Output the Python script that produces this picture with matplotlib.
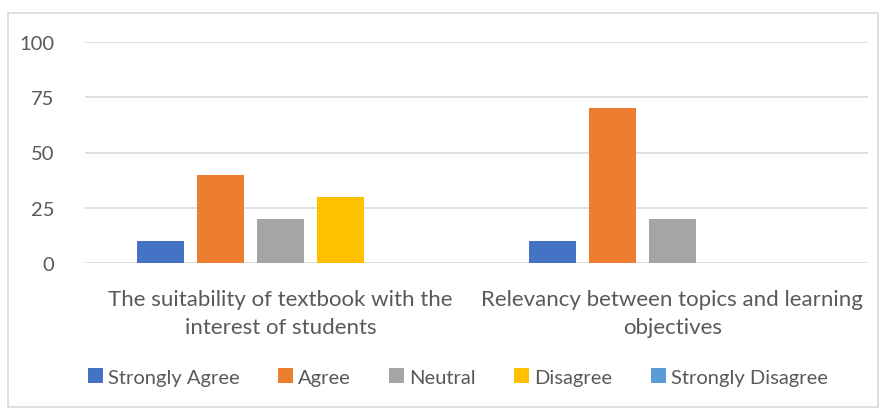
import numpy as np
import matplotlib.pyplot as plt
from matplotlib.patches import Rectangle

categories = [
    'The suitability of textbook with the\ninterest of students',
    'Relevancy between topics and learning\nobjectives',
]
series_names = ['Strongly Agree', 'Agree', 'Neutral', 'Disagree', 'Strongly Disagree']
series_values = [
    [10, 10],
    [40, 70],
    [20, 20],
    [30, 0],
    [0, 0],
]
colors = ['#4472C4', '#ED7D31', '#A5A5A5', '#FFC000', '#5B9BD5']
y_ticks = [0, 25, 50, 75, 100]

text_color = '#595959'
grid_color = '#D9D9D9'

plt.rcParams['font.family'] = ['Lato', 'DejaVu Sans']

fig = plt.figure(figsize=(8.85, 4.10), dpi=100)
# chart border
fig.patches.append(Rectangle((8 / 885, 2 / 410), 870 / 885, 394 / 410,
                             transform=fig.transFigure, fill=False,
                             edgecolor=grid_color, linewidth=1.2))

ax = fig.add_axes([85 / 885, 1 - 264 / 410, 783 / 885, 221 / 410])

x = np.arange(len(categories))
step = 0.153
width = 0.12
for i, (name, vals, c) in enumerate(zip(series_names, series_values, colors)):
    ax.bar(x + (i - 2) * step, vals, width, color=c, label=name, zorder=3)

ax.set_xlim(-0.5, 1.5)
ax.set_ylim(0, 100)
ax.set_yticks(y_ticks)
ax.set_xticks(x)
ax.set_xticklabels(categories, fontsize=16, color=text_color, linespacing=1.45)
ax.tick_params(axis='y', labelsize=14.5, colors=text_color, length=0, pad=22)
ax.tick_params(axis='x', length=0, pad=19)
ax.grid(axis='y', color=grid_color, linewidth=1.2, zorder=0)
for s in ax.spines.values():
    s.set_visible(False)

leg = fig.legend(loc='center left', bbox_to_anchor=(70 / 885, 1 - 378 / 410),
                 ncol=5, frameon=False, fontsize=14.5, handlelength=0.75,
                 handleheight=0.75, handletextpad=0.25, columnspacing=1.9)
for t in leg.get_texts():
    t.set_color(text_color)

fig.savefig('out.png', dpi=100)
